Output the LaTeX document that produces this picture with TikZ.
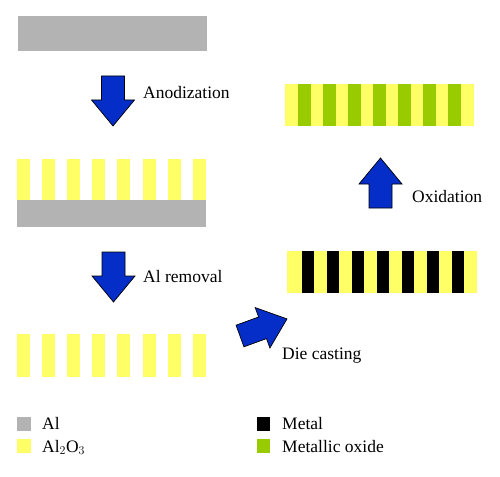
\documentclass[tikz,border=0pt]{standalone}
\usepackage{fontspec}
\setmainfont{Liberation Serif}
\definecolor{algray}{RGB}{179,179,179}
\definecolor{oxyellow}{RGB}{255,255,102}
\definecolor{oxgreen}{RGB}{153,204,0}
\definecolor{stepblue}{RGB}{5,45,200}
\tikzset{
  pics/blockarrow/.style={code={
    \draw[fill=stepblue,line width=0.7pt,line join=miter]
      (0,-11.5) -- (24,-11.5) -- (24,-21.5) -- (50,0)
      -- (24,21.5) -- (24,11.5) -- (0,11.5) -- cycle;
  }},
  steplabel/.style={anchor=base west,inner sep=0pt,font=\fontsize{17.5}{20}\selectfont},
}
\begin{document}
\begin{tikzpicture}[x=1pt,y=-1pt]
      \useasboundingbox (0,0) rectangle (500,476);
      % Aluminium sheet
      \fill[algray] (18,16) rectangle (207,51);
      % -- after anodization
      \foreach \i in {0,...,7}
        \fill[oxyellow] (17+25.1*\i,159) rectangle (30+25.1*\i,200);
      \fill[algray] (17,200) rectangle (206,227);
      % -- after Al removal
      \foreach \i in {0,...,7}
        \fill[oxyellow] (17+25.1*\i,334) rectangle (30+25.1*\i,377);
      % -- after die casting
      \fill[oxyellow] (287,251) rectangle (477,293);
      \foreach \i in {0,...,6}
        \fill[black] (302+25*\i,251) rectangle (314+25*\i,293);
      % -- after oxidation
      \fill[oxyellow] (285,84) rectangle (474,126);
      \foreach \i in {0,...,6}
        \fill[oxgreen] (298+25*\i,84) rectangle (311+25*\i,126);
      % Process arrows
      \pic[rotate=-90] at (113,76) {blockarrow};
      \pic[rotate=-90] at (113.5,252) {blockarrow};
      \pic[rotate=20] at (240,336) {blockarrow};
      \pic[rotate=90] at (380.5,208) {blockarrow};
      \node[steplabel] (anod) at (143,99) {Anodization};
      \node[steplabel] (removal) at (143,282) {Al removal};
      \node[steplabel] (casting) at (282,359) {Die casting};
      \node[steplabel] (oxid) at (412,202) {Oxidation};
      % Legend
      \fill[algray] (17,417) rectangle (31,431);
      \fill[oxyellow] (17,439) rectangle (31,453);
      \fill[black] (257,417) rectangle (270,431);
      \fill[oxgreen] (257,439) rectangle (270,453);
      \node[steplabel] (lal) at (42,429) {Al};
      \node[steplabel] (lalox) at (42,452) {Al$_2$O$_3$};
      \node[steplabel] (lmetal) at (282,429) {Metal};
      \node[steplabel] (loxide) at (282,452) {Metallic oxide};
    \end{tikzpicture}
\end{document}
